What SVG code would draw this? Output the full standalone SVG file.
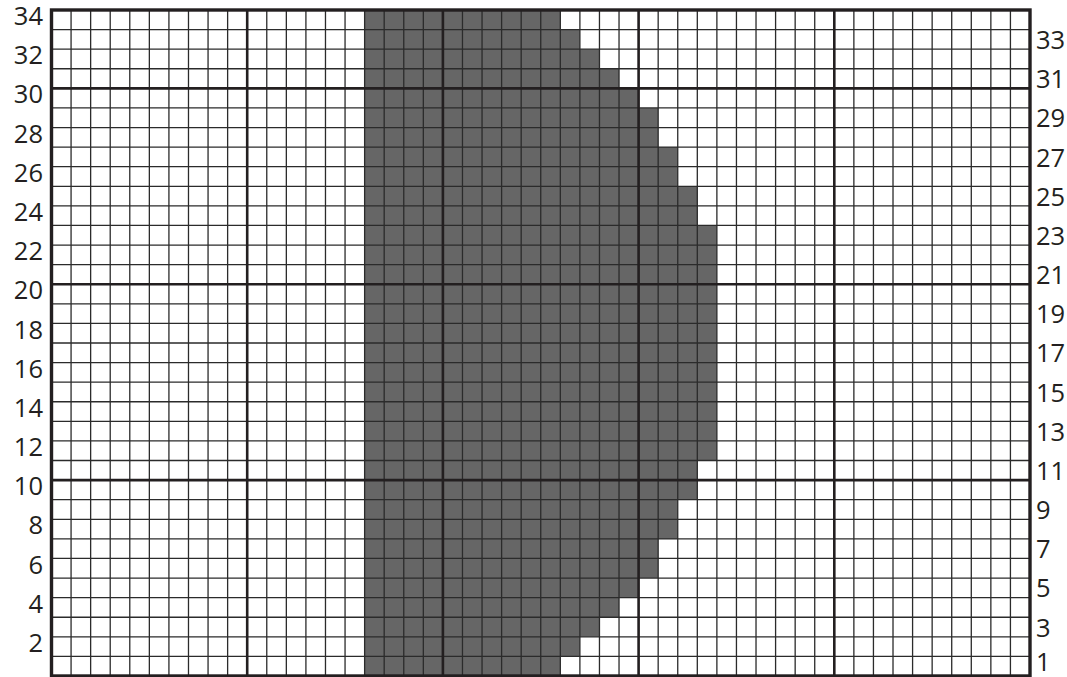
<svg xmlns="http://www.w3.org/2000/svg" width="1067" height="677" viewBox="0 0 1067 677">
<style>
.fill{fill:#666666;stroke:none}
.thin{fill:none;stroke:#2b2b2b;stroke-width:1.3}
.thick{fill:none;stroke:#231f20;stroke-width:2.6}
.border{fill:none;stroke:#231f20;stroke-width:3.4}
.lbl{font-family:"Open Sans","Noto Sans",sans-serif;font-size:25.5px;fill:#231f20}
.l{text-anchor:end}
.r{text-anchor:start}
</style>
<rect width="1067" height="677" fill="#ffffff"/>
<g id="shape">
<path class="fill" d="M364.62 10 H560.32 V29.59 H579.89 V49.18 H599.46 V68.76 H619.03 V88.35 H638.6 V107.94 H658.17 V147.12 H677.74 V186.29 H697.31 V225.47 H716.88 V460.52 H697.31 V499.7 H677.74 V538.88 H658.17 V578.05 H638.6 V597.64 H619.03 V617.23 H599.46 V636.82 H579.89 V656.4 H560.32 V676 H364.62 Z"/>
</g>
<g id="grid">
<path class="thin" d="M71.07 10V676M90.64 10V676M110.21 10V676M129.78 10V676M149.35 10V676M168.92 10V676M188.49 10V676M208.06 10V676M227.63 10V676M266.77 10V676M286.34 10V676M305.91 10V676M325.48 10V676M345.05 10V676M364.62 10V676M384.19 10V676M403.76 10V676M423.33 10V676M462.47 10V676M482.04 10V676M501.61 10V676M521.18 10V676M540.75 10V676M560.32 10V676M579.89 10V676M599.46 10V676M619.03 10V676M658.17 10V676M677.74 10V676M697.31 10V676M716.88 10V676M736.45 10V676M756.02 10V676M775.59 10V676M795.16 10V676M814.73 10V676M853.87 10V676M873.44 10V676M893.01 10V676M912.58 10V676M932.15 10V676M951.72 10V676M971.29 10V676M990.86 10V676M1010.43 10V676"/>
<path class="thin" d="M51.5 29.59H1030M51.5 49.18H1030M51.5 68.76H1030M51.5 107.94H1030M51.5 127.53H1030M51.5 147.12H1030M51.5 166.7H1030M51.5 186.29H1030M51.5 205.88H1030M51.5 225.47H1030M51.5 245.06H1030M51.5 264.64H1030M51.5 303.82H1030M51.5 323.41H1030M51.5 343H1030M51.5 362.58H1030M51.5 382.17H1030M51.5 401.76H1030M51.5 421.35H1030M51.5 440.94H1030M51.5 460.52H1030M51.5 499.7H1030M51.5 519.29H1030M51.5 538.88H1030M51.5 558.46H1030M51.5 578.05H1030M51.5 597.64H1030M51.5 617.23H1030M51.5 636.82H1030M51.5 656.4H1030"/>
<path class="thick" d="M247.2 10V676M442.9 10V676M638.6 10V676M834.3 10V676M51.5 88.35H1030M51.5 284.23H1030M51.5 480.11H1030"/>
<rect class="border" x="51.5" y="10" width="978.5" height="666"/>
</g>
<g id="labels-left" class="lbl l">
<text x="43" y="25.1">34</text>
<text x="43" y="64.3">32</text>
<text x="43" y="103.4">30</text>
<text x="43" y="142.6">28</text>
<text x="43" y="181.8">26</text>
<text x="43" y="221">24</text>
<text x="43" y="260.1">22</text>
<text x="43" y="299.3">20</text>
<text x="43" y="338.5">18</text>
<text x="43" y="377.7">16</text>
<text x="43" y="416.9">14</text>
<text x="43" y="456">12</text>
<text x="43" y="495.2">10</text>
<text x="43" y="534.4">8</text>
<text x="43" y="573.6">6</text>
<text x="43" y="612.7">4</text>
<text x="43" y="651.9">2</text>
</g>
<g id="labels-right" class="lbl r">
<text x="1036" y="49">33</text>
<text x="1036" y="88.1">31</text>
<text x="1036" y="127.3">29</text>
<text x="1036" y="166.5">27</text>
<text x="1036" y="205.6">25</text>
<text x="1036" y="244.8">23</text>
<text x="1036" y="284">21</text>
<text x="1036" y="323.2">19</text>
<text x="1036" y="362.3">17</text>
<text x="1036" y="401.5">15</text>
<text x="1036" y="440.7">13</text>
<text x="1036" y="479.9">11</text>
<text x="1036" y="519">9</text>
<text x="1036" y="558.2">7</text>
<text x="1036" y="597.4">5</text>
<text x="1036" y="636.6">3</text>
<text x="1036" y="670.5">1</text>
</g>
</svg>
